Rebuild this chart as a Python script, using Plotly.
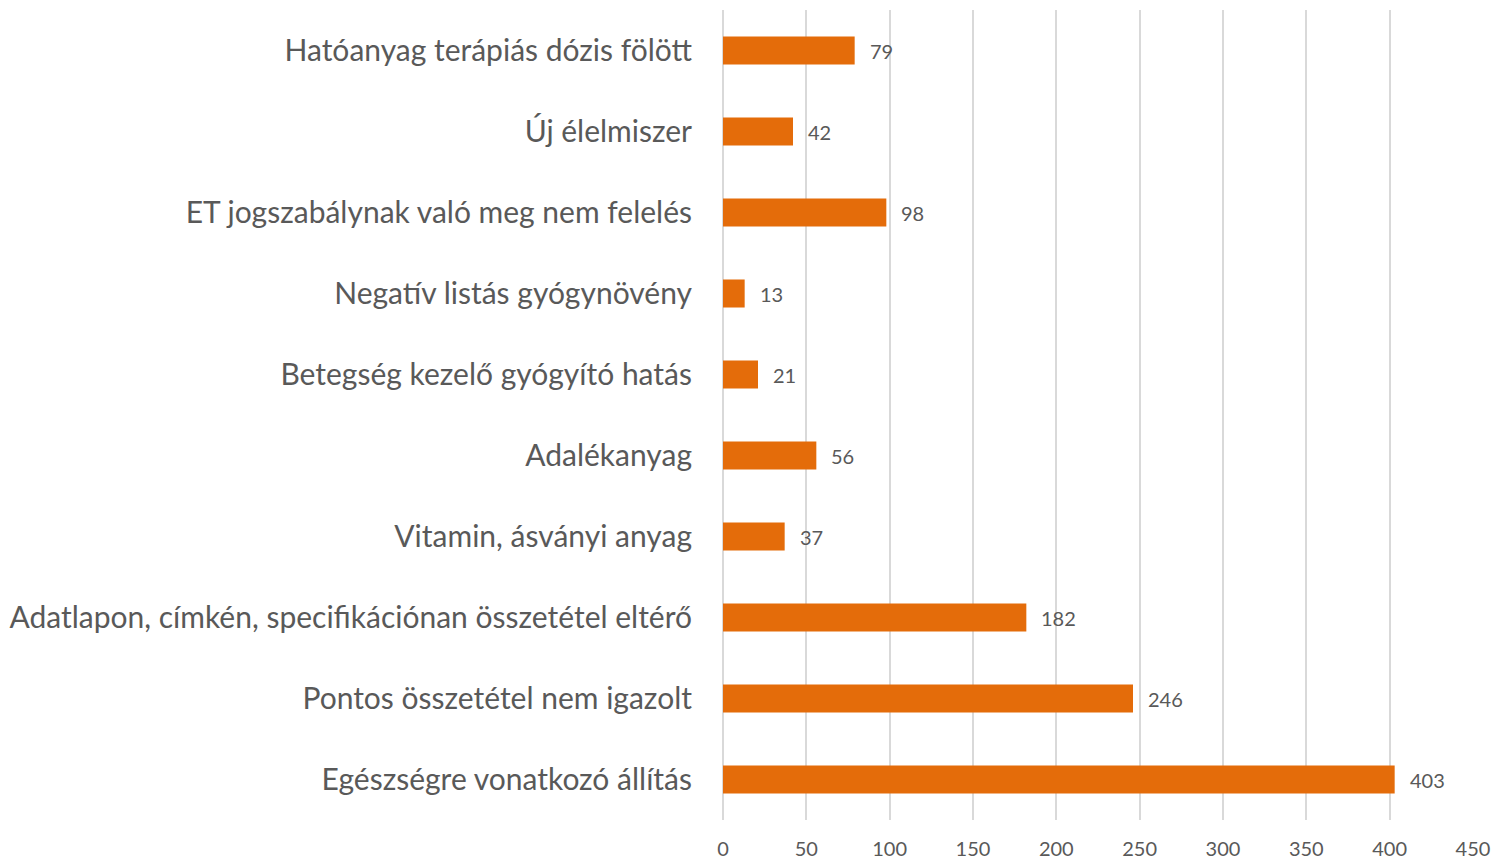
import plotly.graph_objects as go

categories = [
    "Egészségre vonatkozó állítás",
    "Pontos összetétel nem igazolt",
    "Adatlapon, címkén, specifikációnan összetétel eltérő",
    "Vitamin, ásványi anyag",
    "Adalékanyag",
    "Betegség kezelő gyógyító hatás",
    "Negatív listás gyógynövény",
    "ET jogszabálynak való meg nem felelés",
    "Új élelmiszer",
    "Hatóanyag terápiás dózis fölött",
]
values = [403, 246, 182, 37, 56, 21, 13, 98, 42, 79]
x_ticks = [0, 50, 100, 150, 200, 250, 300, 350, 400, 450]

BAR = "#E46C0A"
TXT = "#595959"
GRID = "#D9D9D9"
FONT = "Lato, 'Open Sans', sans-serif"

fig = go.Figure(
    go.Bar(
        x=values,
        y=categories,
        orientation="h",
        marker=dict(color=BAR, line=dict(width=0)),
    )
)

for c, v in zip(categories, values):
    fig.add_annotation(
        x=v, y=c, text=str(v), showarrow=False,
        xanchor="left", yanchor="middle", xshift=13,
        font=dict(family=FONT, size=20, color=TXT),
    )

fig.update_layout(
    width=1495, height=862,
    margin=dict(l=723, r=22, t=10, b=42),
    paper_bgcolor="white", plot_bgcolor="white",
    bargap=0.654,
    showlegend=False,
    font=dict(family=FONT, color=TXT),
)
fig.update_xaxes(
    range=[0, 450], tickvals=x_ticks, ticktext=[str(t) for t in x_ticks],
    showgrid=True, gridcolor=GRID, gridwidth=2,
    zeroline=True, zerolinecolor=GRID, zerolinewidth=2,
    showline=False, ticks="", ticklabelstandoff=15, automargin=False,
    tickfont=dict(family=FONT, size=20, color=TXT),
)
fig.update_yaxes(
    categoryorder="array", categoryarray=categories,
    showgrid=False, zeroline=False, showline=False, ticks="",
    ticklabelstandoff=30, automargin=False,
    tickfont=dict(family=FONT, size=30, color=TXT),
)

fig.write_html(
    "out.html",
    config={"displayModeBar": False},
    post_script="document.body.style.margin='0';document.body.style.overflow='hidden';",
)
